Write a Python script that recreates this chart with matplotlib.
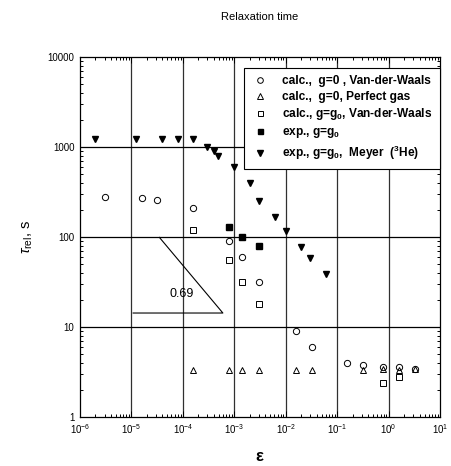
import numpy as np
import matplotlib
matplotlib.use("Agg")
import matplotlib.pyplot as plt
from matplotlib.ticker import LogLocator, FuncFormatter, NullFormatter

plt.rcParams['font.family'] = ['Liberation Sans', 'DejaVu Sans']
plt.rcParams['mathtext.fontset'] = 'custom'
plt.rcParams['mathtext.rm'] = 'Liberation Sans'
plt.rcParams['mathtext.it'] = 'Liberation Sans:italic'
plt.rcParams['mathtext.bf'] = 'Liberation Sans:bold'

# calc., g=0, Van-der-Waals
vdw_eps = [3e-6, 1.6e-5, 3.2e-5, 1.6e-4, 8e-4, 1.4e-3, 3e-3, 0.0155, 0.032, 0.155, 0.32, 0.78, 1.6, 3.2]
vdw_tau = [280, 270, 260, 210, 90, 60, 32, 9, 6, 4.0, 3.75, 3.6, 3.6, 3.4]

# calc., g=0, perfect gas
pg_eps = [1.6e-4, 8e-4, 1.4e-3, 3e-3, 0.0155, 0.032, 0.32, 0.78, 1.6, 3.2]
pg_tau = [3.35, 3.35, 3.35, 3.35, 3.35, 3.35, 3.3, 3.45, 3.3, 3.4]

# calc., g=g0, Van-der-Waals
g0_eps = [1.6e-4, 8e-4, 1.4e-3, 3e-3, 0.78, 1.6]
g0_tau = [120, 55, 32, 18, 2.4, 2.8]

# exp., g=g0
exp_eps = [8e-4, 1.4e-3, 3e-3]
exp_tau = [130, 100, 80]

# exp., g=g0, Meyer (3He)
mey_eps = [2e-6, 1.2e-5, 4e-5, 8e-5, 1.6e-4, 3e-4, 4e-4, 4.9e-4, 1e-3, 2e-3,
           3e-3, 6.1e-3, 0.0102, 0.020, 0.030, 0.060]
mey_tau = [1220, 1220, 1220, 1220, 1220, 1000, 910, 800, 600, 400,
           250, 168, 117, 78, 59, 39]

# slope guide (0.69)
slope_x = [3.5e-5, 6e-4, 1.08e-5]
slope_y = [99, 14.3, 14.3]

fig = plt.figure(figsize=(4.52, 4.66), dpi=100)
ax = fig.add_axes([80/452, 49/466, 360/452, 360/466])

for xv in [1e-5, 1e-4, 1e-3, 1e-2, 1e-1, 1e0]:
    ax.axvline(xv, color='#303030', lw=0.9, zorder=1)
for yv in [10, 100, 1000]:
    ax.axhline(yv, color='black', lw=0.9, zorder=1)

ms = 4.5
ax.plot(vdw_eps, vdw_tau, 'o', mfc='white', mec='black', mew=0.7, ms=ms,
        label='calc.,  g=0 , Van-der-Waals', zorder=3)
ax.plot(pg_eps, pg_tau, '^', mfc='none', mec='black', mew=0.7, ms=ms,
        label='calc.,  g=0, Perfect gas', zorder=3)
ax.plot(g0_eps, g0_tau, 's', mfc='white', mec='black', mew=0.7, ms=4,
        label=r'calc., g=g$\mathbf{_0}$, Van-der-Waals', zorder=3)
ax.plot(exp_eps, exp_tau, 's', color='black', ms=4,
        label=r'exp., g=g$\mathbf{_0}$', zorder=3)
ax.plot(mey_eps, mey_tau, 'v', color='black', ms=5,
        label=r'exp., g=g$\mathbf{_0}$,  Meyer  ($\mathbf{^3}$He)', zorder=3)

ax.plot(slope_x, slope_y, color='black', lw=0.8, zorder=2)
ax.text(9.3e-5, 23.5, '0.69', fontsize=9, ha='center', va='center')

ax.set_xscale('log')
ax.set_yscale('log')
ax.set_xlim(1e-6, 1e1)
ax.set_ylim(1, 1e4)

ax.xaxis.set_major_locator(LogLocator(base=10, numticks=20))
ax.xaxis.set_minor_locator(LogLocator(base=10, subs=np.arange(2, 10), numticks=20))
ax.xaxis.set_minor_formatter(NullFormatter())
ax.yaxis.set_major_locator(LogLocator(base=10, numticks=20))
ax.yaxis.set_minor_locator(LogLocator(base=10, subs=np.arange(2, 10), numticks=20))
ax.yaxis.set_minor_formatter(NullFormatter())
ax.yaxis.set_major_formatter(FuncFormatter(lambda v, p: '%d' % round(v)))

ax.tick_params(which='both', direction='in', top=True, right=True, labelsize=7, width=0.7)
ax.tick_params(which='major', length=4, pad=4)
ax.tick_params(which='minor', length=2.5)
for sp in ax.spines.values():
    sp.set_linewidth(0.9)

ax.set_title('Relaxation time', fontsize=8, pad=27)
ax.set_xlabel(r'$\mathbf{\varepsilon}$', fontsize=12, fontweight='bold', labelpad=9)
ax.set_ylabel(r'$\tau_{\rm rel}$, s', fontsize=10.5, labelpad=9)

leg = ax.legend(loc='upper left', bbox_to_anchor=(0.456, 0.969), fancybox=False,
                edgecolor='black', framealpha=1, prop={'size': 8.6, 'weight': 'bold'},
                handletextpad=1.1, borderaxespad=0, labelspacing=0.3, borderpad=0.6,
                handlelength=1.5, markerscale=0.9)
leg.get_frame().set_linewidth(0.8)
leg.set_zorder(5)

fig.savefig('out.png', dpi=100)
